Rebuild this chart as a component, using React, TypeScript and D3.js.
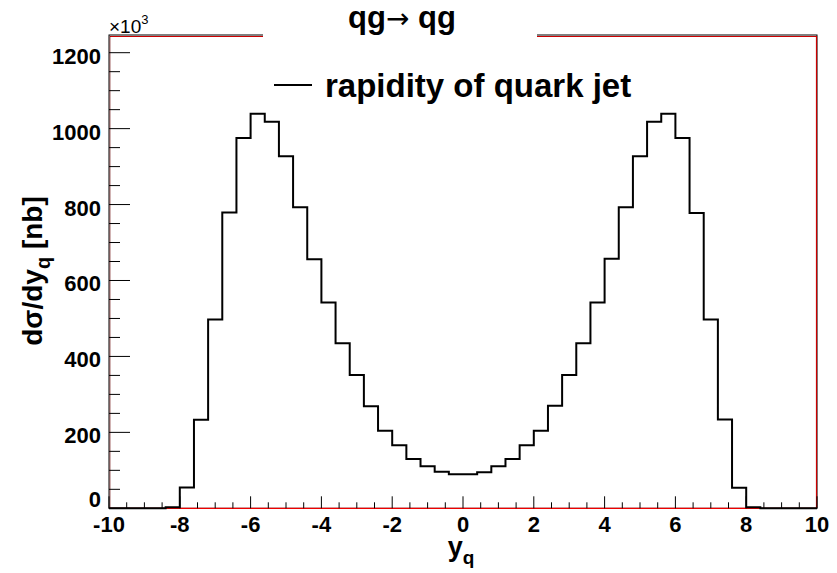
import React from "react";
import * as d3 from "d3";

const binEdgesMin = -10;
const binWidth = 0.4;
const binValues = [
  0, 0, 0, 0, 3, 55, 233, 497, 779, 975,
  1039, 1018, 927, 793, 656, 542, 435, 351, 269, 204,
  166, 130, 111, 96, 90, 90, 95, 111, 130, 166,
  204, 270, 351, 435, 542, 657, 793, 927, 1018, 1039,
  975, 778, 497, 234, 54, 3, 0, 0, 0, 0,
];
const xTicksMajor = [-10, -8, -6, -4, -2, 0, 2, 4, 6, 8, 10];
const yTicksMajor = [0, 200, 400, 600, 800, 1000, 1200];

const W = 837;
const H = 573;
const L = 109;
const R = 817;
const T = 35;
const B = 508.3;
const FONT = "'Liberation Sans', Arial, Helvetica, sans-serif";

export default function App() {
  const x = d3.scaleLinear().domain([-10, 10]).range([L, R]);
  const y = d3.scaleLinear().domain([0, 1246.6]).range([B, T]);

  const xMinor = d3.range(-10, 10.001, 0.5).filter((v) => Math.abs(v / 2 - Math.round(v / 2)) > 1e-6);
  const yMinor = d3.range(0, 1246, 50).filter((v) => v % 200 !== 0);

  let pathD = "";
  binValues.forEach((v, i) => {
    const x0 = x(binEdgesMin + i * binWidth);
    const x1 = x(binEdgesMin + (i + 1) * binWidth);
    const yy = y(v);
    pathD += (i === 0 ? `M${x0},${yy}` : `L${x0},${yy}`) + `L${x1},${yy}`;
  });

  return (
    <svg width={W} height={H} style={{ position: "absolute", left: 0, top: 0, background: "#fff" }} fontFamily={FONT}>
      <rect x={0} y={0} width={W} height={H} fill="#fff" />
      {/* frame */}
      <rect x={L} y={T} width={R - L} height={B - T} fill="none" stroke="#000" strokeWidth={1} />
      <line x1={L + 1} y1={T + 1.5} x2={R - 1} y2={T + 1.5} stroke="#c00" strokeWidth={1} />
      <line x1={R - 0.5} y1={T + 1} x2={R - 0.5} y2={B} stroke="#c00" strokeWidth={1.2} />
      <line x1={L} y1={B} x2={R} y2={B} stroke="#e00" strokeWidth={1.2} />
      <line x1={L + 1} y1={T + 1} x2={L + 1} y2={B} stroke="#600" strokeWidth={0.6} />
      {/* histogram */}
      <path d={pathD} fill="none" stroke="#000" strokeWidth={2} />
      {/* x ticks */}
      {xTicksMajor.map((t) => (
        <line key={"xM" + t} x1={x(t)} x2={x(t)} y1={B} y2={B - 12} stroke="#000" strokeWidth={1} />
      ))}
      {xMinor.map((t) => (
        <line key={"xm" + t} x1={x(t)} x2={x(t)} y1={B} y2={B - 6} stroke="#000" strokeWidth={1} />
      ))}
      {xTicksMajor.map((t) => (
        <text key={"xl" + t} x={x(t)} y={532} textAnchor="middle" fontSize={22} fontWeight="bold">
          {t}
        </text>
      ))}
      {/* y ticks */}
      {yTicksMajor.map((t) => (
        <line key={"yM" + t} x1={L} x2={L + 21} y1={y(t)} y2={y(t)} stroke="#000" strokeWidth={1} />
      ))}
      {yMinor.map((t) => (
        <line key={"ym" + t} x1={L} x2={L + 11} y1={y(t)} y2={y(t)} stroke="#000" strokeWidth={1} />
      ))}
      {yTicksMajor.map((t) => (
        <text key={"yl" + t} x={101} y={y(t) + (t === 0 ? -1 : 11)} textAnchor="end" fontSize={22} fontWeight="bold">
          {t}
        </text>
      ))}
      <text x={109} y={33} fontSize={19}>
        ×10<tspan dy={-9} fontSize={13}>3</tspan>
      </text>
      {/* title box */}
      <rect x={263} y={0} width={274} height={T + 2} fill="#fff" />
      <text x={402} y={28} textAnchor="middle" fontSize={31} fontWeight="bold">
        qg<tspan fontWeight="normal" fontFamily="'DejaVu Sans'" fontSize={28}>→</tspan> qg
      </text>
      {/* legend */}
      <line x1={274} x2={312} y1={85} y2={85} stroke="#000" strokeWidth={2} />
      <text x={325} y={97} fontSize={33} fontWeight="bold">
        rapidity of quark jet
      </text>
      {/* axis titles */}
      <text x={461} y={556} textAnchor="middle" fontSize={27} fontWeight="bold">
        y<tspan fontSize={19} dy={8}>q</tspan>
      </text>
      <text transform={`translate(42,271) rotate(-90)`} textAnchor="middle" fontSize={28} fontWeight="bold">
        dσ/dy<tspan fontSize={20} dy={8}>q</tspan>
        <tspan dy={-8}> [nb]</tspan>
      </text>
    </svg>
  );
}
